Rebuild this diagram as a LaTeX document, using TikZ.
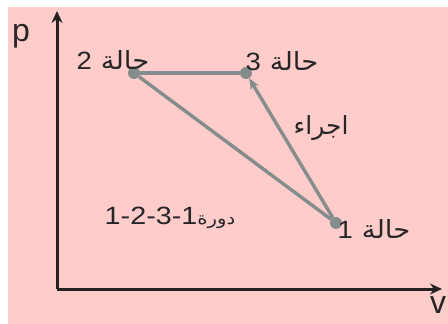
\documentclass[tikz,border=0pt]{standalone}
\usepackage{fontspec}
\setmainfont{Liberation Sans}
\newfontfamily\ar[Script=Arabic]{DejaVu Sans}
\TeXXeTstate=1
\usetikzlibrary{arrows.meta}
\definecolor{bgpink}{RGB}{255,204,204}
\definecolor{cyc}{RGB}{132,140,140}
\definecolor{axis}{RGB}{35,35,35}
\tikzset{
  axisline/.style={draw=axis,line width=3pt,-{Stealth[length=12pt,width=11pt]}},
  cycline/.style={draw=cyc,line width=3.4pt},
  statedot/.style={circle,fill=cyc,inner sep=0pt,minimum size=12pt},
  lbl/.style={inner sep=0pt,text=black!85,font=\fontsize{25}{27}\selectfont},
  axlbl/.style={inner sep=0pt,text=black!85,font=\fontsize{32}{34}\selectfont}
}
\begin{document}
\begin{tikzpicture}[x=1pt,y=-1pt]
\useasboundingbox (0,0) rectangle (448,324);
\fill[white] (0,0) rectangle (448,324);
\fill[bgpink] (8,7) rectangle (448,324);
% axes
\coordinate (O) at (57,289);
\coordinate (ptip) at (57,11);
\coordinate (vtip) at (442,289);
\draw[axisline] (O) -- (ptip);
\draw[axisline] (O) -- (vtip);
\node[axlbl] (plbl) at (21,36) {p};
\node[axlbl] (vlbl) at (438,305) {v};
% states
\node[statedot] (s2) at (134,73) {};
\node[statedot] (s3) at (246,73) {};
\node[statedot] (s1) at (336,223) {};
\draw[cycline] (s2) -- (s3);
\draw[cycline] (s2) -- (s1);
\draw[cycline,-{Stealth[length=11pt,width=9pt]}] (s1) -- (s3);
% labels
\node[lbl,xscale=1.1] (l2) at (113,60) {\ar\beginR حالة {\rmfamily 2}\endR};
\node[lbl,xscale=1.1] (l3) at (282,61) {\ar\beginR حالة {\rmfamily 3}\endR};
\node[lbl,xscale=1.1] (l1) at (374,229) {\ar\beginR حالة {\rmfamily 1}\endR};
\node[lbl] (proc) at (321,128) {\ar\beginR اجراء\endR};
\node[lbl,xscale=1.15] (cyc) at (170,218) {\ar\beginR {\fontsize{17}{19}\selectfont دورة}\beginL{\rmfamily 1-2-3-1}\endL\endR};
\end{tikzpicture}
\end{document}
